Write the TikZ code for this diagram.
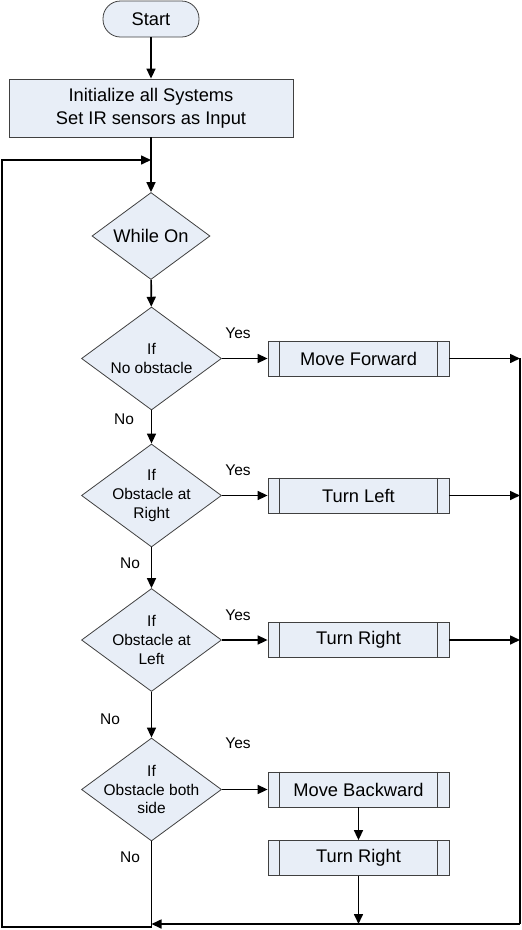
\documentclass[tikz,border=0pt]{standalone}
\usepackage{fontspec}
\setmainfont{Liberation Sans}
\usepackage{xcolor}
\usepackage{tikz}
\usetikzlibrary{positioning, arrows.meta, shapes}

\definecolor{boxfill}{RGB}{232,238,247}
\definecolor{boxline}{RGB}{64,64,64}

\tikzset{
    base/.style={draw=boxline, fill=boxfill, line width=0.8pt, inner sep=0pt, font=\fontsize{18.3}{23}\selectfont},
    term/.style={base, rectangle, rounded corners=17.5pt, minimum width=96, minimum height=36},
    procbox/.style={base, rectangle, align=center, minimum width=284, minimum height=58},
    subproc/.style={base, rectangle, minimum width=181, minimum height=35},
    decision/.style={base, diamond, minimum width=140, minimum height=103},
    dtext/.style={font=\fontsize{15.5}{18.6}\selectfont, align=center},
    lbl/.style={font=\fontsize{15.5}{18.6}\selectfont},
    conn/.style={line width=1.6pt, -{Triangle[length=10pt, width=9pt]}}
}

\begin{document}
\begin{tikzpicture}[x=1pt, y=-1pt]
        \useasboundingbox (0,0) rectangle (522,930);
        % main column
        \node[term] (start) at (151,19) {Start};
        \node[procbox] (init) at (151,108) {Initialize all Systems\\Set IR sensors as Input};
        \node[decision, minimum width=118, minimum height=87] (while) at (151,236) {};
        \node[font=\fontsize{18.3}{22}\selectfont] (whilet) at (while) {While On};
        \node[decision] (d1) at (151.5,358.5) {};
        \node[dtext] (d1t) at (d1) {If\\No obstacle};
        \node[decision] (d2) at (151.5,495.5) {};
        \node[dtext] (d2t) at (d2) {If\\Obstacle at\\Right};
        \node[decision] (d3) at (151.5,640) {};
        \node[dtext] (d3t) at (d3) {If\\Obstacle at\\Left};
        \node[decision] (d4) at (151.5,789.5) {};
        \node[dtext] (d4t) at (d4) {If\\Obstacle both\\side};
        % actions
        \node[subproc] (fwd) at (358.5,358.5) {Move Forward};
        \node[subproc] (left) at (358.5,495.5) {Turn Left};
        \node[subproc] (right) at (358.5,640) {Turn Right};
        \node[subproc] (back) at (358.5,789.5) {Move Backward};
        \node[subproc] (right2) at (358.5,858) {Turn Right};
        \foreach \n in {fwd,left,right,back,right2}
            \draw[boxline, line width=0.8pt] ([xshift=12]\n.north west) -- ([xshift=12]\n.south west)
                ([xshift=-12]\n.north east) -- ([xshift=-12]\n.south east);
        % labels
        \node[lbl] (y1) at (238,333) {Yes};
        \node[lbl] (y2) at (238,470) {Yes};
        \node[lbl] (y3) at (238,615) {Yes};
        \node[lbl] (y4) at (238,743) {Yes};
        \node[lbl] (n1) at (124,419) {No};
        \node[lbl] (n2) at (130,563) {No};
        \node[lbl] (n3) at (110,719) {No};
        \node[lbl] (n4) at (130,857) {No};
        % connectors
        \coordinate (rtop) at (520,358);
        \coordinate (rbot) at (520,924);
        \coordinate (lbot) at (2,927);
        \coordinate (ltop) at (2,160);
        \draw[conn] (start) -- (init);
        \draw[conn] (init) -- (while);
        \draw[conn] (while) -- (d1);
        \draw[conn] (d1) -- (d2);
        \draw[conn] (d2) -- (d3);
        \draw[conn] (d3) -- (d4);
        \draw[conn] (d1) -- (fwd);
        \draw[conn] (d2) -- (left);
        \draw[conn] (d3) -- (right);
        \draw[conn] (d4) -- (back);
        \draw[conn] (back) -- (right2);
        \draw[conn] (fwd) -- (fwd -| rtop);
        \draw[conn] (left) -- (left -| rtop);
        \draw[conn] (right) -- (right -| rtop);
        \draw[line width=1.6pt] (rtop) -- (rbot);
        \draw[conn] (rbot) -- (rbot -| d4);
        \draw[conn] (right2) -- (right2 |- rbot);
        \draw[conn] (d4) |- (lbot) -- (ltop) -- (ltop -| init);
    \end{tikzpicture}
\end{document}
